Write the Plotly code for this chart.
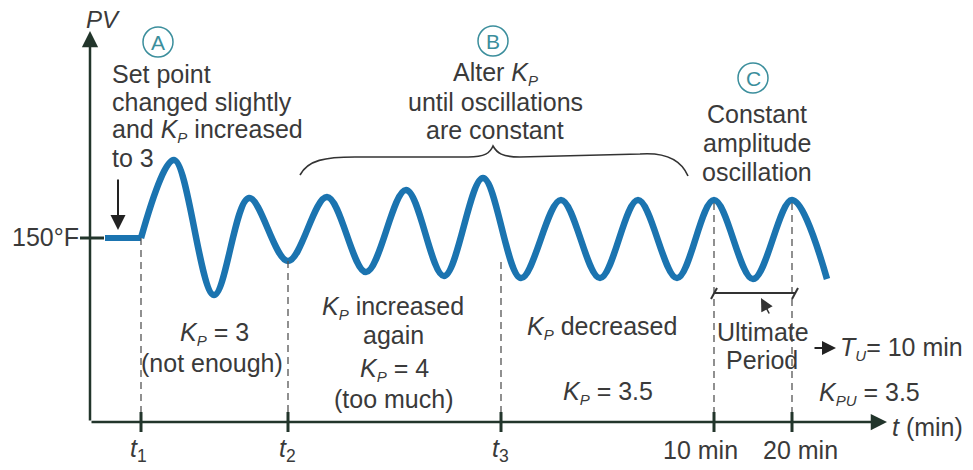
import plotly.graph_objects as go

# Process variable response during Ziegler-Nichols ultimate-gain tuning.
# Time in arbitrary units from the PV axis; PV as deviation from 150°F.
flat_t = [15, 51]
flat_pv = [0, 0]

osc_t = [51, 84, 124, 159, 198, 237, 276, 316, 354, 393, 431,
         471, 510, 548, 587, 624, 663, 702, 737]
osc_pv = [0, 78, -57, 40, -23, 41, -34, 48, -38, 60, -40,
          38, -40, 38, -40, 38, -41, 38, -41]

# Event markers on the time axis
event_t = [51, 198, 411, 624, 702]
event_top = [0, -23, -24, 35, 35]
event_labels = ["<i>t</i><sub>1</sub>", "<i>t</i><sub>2</sub>", "<i>t</i><sub>3</sub>",
                "10 min", "20 min"]
event_label_x = [48, 197, 410, 610, 710]

AXIS_Y = -184
FONT = "Arial, Liberation Sans, sans-serif"
TXT = "#3a3a3a"
AXC = "#22352b"
BLUE = "#1b74b0"
TEAL = "#3b8e9c"


def sub(s):
    return f"<sub><span style='font-size:15px'><i>{s}</i></span></sub>"


KP = "<i>K</i>" + sub("P")

fig = go.Figure()

fig.add_trace(go.Scatter(x=flat_t, y=flat_pv, mode="lines",
                         line=dict(color=BLUE, width=6), hoverinfo="skip"))
fig.add_trace(go.Scatter(x=osc_t, y=osc_pv, mode="lines",
                         line=dict(color=BLUE, width=6.5, shape="spline", smoothing=1.0),
                         hoverinfo="skip"))

shapes = []
# dashed guides from the curve down to the time axis, plus tick marks
for t, top in zip(event_t, event_top):
    shapes.append(dict(type="line", x0=t, x1=t, y0=top, y1=AXIS_Y,
                       line=dict(color="#555555", width=1.3, dash="7px,5px")))
    shapes.append(dict(type="line", x0=t, x1=t, y0=AXIS_Y + 10, y1=AXIS_Y - 10,
                       line=dict(color=AXC, width=3)))

# 150°F tick
shapes.append(dict(type="line", x0=-10, x1=14, y0=0, y1=0,
                   line=dict(color=AXC, width=3)))

# brace over region B
shapes.append(dict(type="path",
                   path="M 210,63 C 218,78 235,81 265,81 L 378,81 C 395,81 400,85 403,92 "
                        "C 407,85 412,81 430,81 L 550,84 C 578,86 592,76 598,62",
                   line=dict(color="#333333", width=1.6)))

# ultimate period bracket
shapes.append(dict(type="line", x0=624, x1=705, y0=-55, y1=-55,
                   line=dict(color="#333333", width=2)))
shapes.append(dict(type="line", x0=621, x1=627, y0=-61, y1=-50,
                   line=dict(color="#333333", width=2)))
shapes.append(dict(type="line", x0=702, x1=708, y0=-61, y1=-50,
                   line=dict(color="#333333", width=2)))

# circled step labels
for cx, cy in [(68, 196), (403, 197), (663, 160)]:
    r = 15
    shapes.append(dict(type="circle", x0=cx - r, x1=cx + r, y0=cy - r, y1=cy + r,
                       line=dict(color=TEAL, width=1.5)))

ann = []


def text(x, y, s, xanchor="center", size=25, color=TXT):
    ann.append(dict(x=x, y=y, text=s, showarrow=False, xanchor=xanchor,
                    yanchor="middle", font=dict(family=FONT, size=size, color=color)))


def arrow(x0, y0, x1, y1, width=2, size=1.0, color=AXC):
    ann.append(dict(x=x1, y=y1, ax=x0, ay=y0, axref="x", ayref="y", xref="x", yref="y",
                    text="", showarrow=True, arrowhead=2, arrowsize=size,
                    arrowwidth=width, arrowcolor=color, standoff=0, startstandoff=0))


# axes
arrow(0, AXIS_Y, 0, 207, width=2.5, size=1.3)
arrow(0, AXIS_Y, 797, AXIS_Y, width=2.5, size=1.3)
text(13, 219, "<i>PV</i>", size=24)
text(800, -189, "<i>t</i> (min)", xanchor="left")
text(-9, 1, "150°F", xanchor="right", size=25)

# circled letters
text(68, 196, "A", size=21, color=TEAL)
text(403, 197, "B", size=21, color=TEAL)
text(663, 160, "C", size=21, color=TEAL)

# region A
for yy, s in zip([164, 136, 108, 80],
                 ["Set point", "changed slightly", f"and {KP} increased", "to 3"]):
    text(20, yy, s, xanchor="left")
arrow(28, 60, 28, 8, width=2, size=1.5, color="#222222")

# region B
for yy, s in zip([165, 136, 108], [f"Alter {KP}", "until oscillations", "are constant"]):
    text(405, yy, s)

# region C
for yy, s in zip([124, 95, 66], ["Constant", "amplitude", "oscillation"]):
    text(667, yy, s)

# interval notes
text(124, -95, f"{KP} = 3")
text(122, -125, "(not enough)")
text(303, -69, f"{KP} increased")
text(303, -97, "again")
text(304, -131, f"{KP} = 4")
text(303, -161, "(too much)")
text(512, -89, f"{KP} decreased")
text(518, -154, f"{KP} = 3.5")
text(673, -94, "Ultimate")
text(672, -122, "Period")
arrow(680, -77, 671, -60, width=1.6, size=1.6, color="#333333")
arrow(723, -110, 746, -110, width=2, size=1.4, color="#222222")
text(748, -110, "<i>T</i>" + sub("U") + "= 10 min", xanchor="left")
text(727, -155, "<i>K</i>" + sub("PU") + " = 3.5", xanchor="left")

# tick labels
for lx, lab in zip(event_label_x, event_labels):
    text(lx, -212, lab)

fig.update_layout(
    width=973, height=470,
    margin=dict(l=0, r=0, t=0, b=0),
    paper_bgcolor="white", plot_bgcolor="white",
    showlegend=False,
    xaxis=dict(range=[-90, 883], visible=False, fixedrange=True),
    yaxis=dict(range=[-232, 238], visible=False, fixedrange=True),
    shapes=shapes,
    annotations=ann,
)

fig.write_html("out.html")
